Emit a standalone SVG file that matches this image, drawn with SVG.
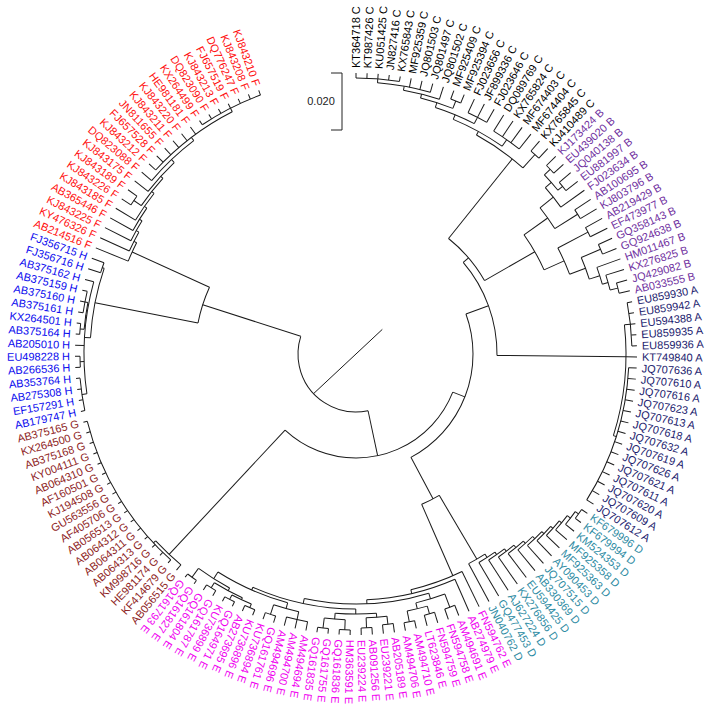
<svg xmlns="http://www.w3.org/2000/svg" width="710" height="710" viewBox="0 0 710 710">
<style>
text{font-family:"Liberation Sans",Arial,sans-serif;font-size:11px}
.c{fill:#000}.b{fill:#7030a0}.a{fill:#1c1c6e}.d{fill:#2e8ba3}.e{fill:#f000f0}.g{fill:#8e2424}.h{fill:#0a0aee}.f{fill:#ff1010}
.fl text{text-anchor:end}
</style>
<rect width="710" height="710" fill="#fff"/>
<g id="scale" fill="none" stroke="#222" stroke-width="1">
<path d="M331,73H342V130H331"/>
<text x="321" y="105" text-anchor="middle" fill="#222" stroke="none" font-size="11">0.020</text>
</g>
<g id="branches" transform="translate(356,354)" fill="none" stroke="#1a1a1a" stroke-width="1">
<line x1="-42.4" y1="39.6" x2="26.3" y2="-24.6"/>
<circle r="58" pathLength="360" stroke-dasharray="119.8 720" transform="rotate(78)"/>
<line x1="58" x2="161" transform="rotate(197.8)"/>
<line x1="58" x2="104" transform="rotate(78)"/>
<circle r="161" pathLength="360" stroke-dasharray="13.4 720" transform="rotate(191.1)"/>
<line x1="161" x2="266" transform="rotate(191.1)"/>
<line x1="161" x2="246" transform="rotate(204.5)"/>
<circle r="104" pathLength="360" stroke-dasharray="111.5 720" transform="rotate(21.5)"/>
<line x1="104" x2="117" transform="rotate(21.5)"/>
<line x1="104" x2="274" transform="rotate(133)"/>
<circle r="117" pathLength="360" stroke-dasharray="82 720" transform="rotate(-20)"/>
<line x1="117" x2="141" transform="rotate(-20)"/>
<line x1="117" x2="164" transform="rotate(62)"/>
<circle r="141" pathLength="360" stroke-dasharray="41.1 720" transform="rotate(-40.5)"/>
<line x1="141" x2="148" transform="rotate(-40.5)"/>
<line x1="141" x2="270" transform="rotate(0.6)"/>
<circle r="148" pathLength="360" stroke-dasharray="21.55 720" transform="rotate(-51.3)"/>
<line x1="148" x2="250" transform="rotate(-51.3)"/>
<line x1="148" x2="206" transform="rotate(-29.75)"/>
<circle r="164" pathLength="360" stroke-dasharray="6.9 720" transform="rotate(59.5)"/>
<line x1="164" x2="238" transform="rotate(59.5)"/>
<line x1="164" x2="242" transform="rotate(66.4)"/>
<!-- C -->
<circle r="250" pathLength="360" stroke-dasharray="13.09 720" transform="rotate(-61.19)"/>
<line x1="250" x2="254" transform="rotate(-61.19)"/>
<line x1="250" x2="268" transform="rotate(-48.1)"/>
<circle r="268" pathLength="360" stroke-dasharray="2.265 720" transform="rotate(-49.23)"/>
<circle r="254" pathLength="360" stroke-dasharray="12.6 720" transform="rotate(-67.49)"/>
<line x1="254" x2="259" transform="rotate(-67.49)"/>
<line x1="254" x2="262" transform="rotate(-54.89)"/>
<circle r="262" pathLength="360" stroke-dasharray="6.795 720" transform="rotate(-58.29)"/>
<circle r="259" pathLength="360" stroke-dasharray="9.34 720" transform="rotate(-72.16)"/>
<line x1="259" x2="264" transform="rotate(-72.16)"/>
<line x1="259" x2="266" transform="rotate(-62.82)"/>
<circle r="266" pathLength="360" stroke-dasharray="4.53 720" transform="rotate(-65.085)"/>
<circle r="264" pathLength="360" stroke-dasharray="7.36 720" transform="rotate(-75.84)"/>
<line x1="264" x2="268" transform="rotate(-75.84)"/>
<line x1="264" x2="272" transform="rotate(-68.48)"/>
<circle r="272" pathLength="360" stroke-dasharray="2.265 720" transform="rotate(-69.615)"/>
<circle r="268" pathLength="360" stroke-dasharray="7.92 720" transform="rotate(-79.8)"/>
<line x1="268" x2="272" transform="rotate(-79.8)"/>
<circle r="272" pathLength="360" stroke-dasharray="11.325 720" transform="rotate(-85.47)"/>
<line x1="272" x2="276" transform="rotate(-85.47)"/>
<circle r="276" pathLength="360" stroke-dasharray="9.06 720" transform="rotate(-90)"/>
<!-- B -->
<circle r="206" pathLength="360" stroke-dasharray="11.26 720" transform="rotate(-35.36)"/>
<line x1="206" x2="235" transform="rotate(-35.36)"/>
<line x1="206" x2="228" transform="rotate(-24.1)"/>
<circle r="235" pathLength="360" stroke-dasharray="6.23 720" transform="rotate(-38.47)"/>
<line x1="235" x2="252" transform="rotate(-38.47)"/>
<line x1="235" x2="262" transform="rotate(-32.24)"/>
<circle r="252" pathLength="360" stroke-dasharray="5.66 720" transform="rotate(-41.3)"/>
<line x1="252" x2="260" transform="rotate(-41.3)"/>
<circle r="260" pathLength="360" stroke-dasharray="4.53 720" transform="rotate(-43.57)"/>
<line x1="260" x2="268" transform="rotate(-43.57)"/>
<line x1="260" x2="266" transform="rotate(-39.04)"/>
<circle r="268" pathLength="360" stroke-dasharray="2.265 720" transform="rotate(-44.7)"/>
<circle r="266" pathLength="360" stroke-dasharray="2.265 720" transform="rotate(-40.17)"/>
<circle r="262" pathLength="360" stroke-dasharray="2.265 720" transform="rotate(-33.375)"/>
<circle r="228" pathLength="360" stroke-dasharray="7.22 720" transform="rotate(-27.71)"/>
<line x1="228" x2="262" transform="rotate(-27.71)"/>
<line x1="228" x2="245" transform="rotate(-20.49)"/>
<circle r="262" pathLength="360" stroke-dasharray="2.265 720" transform="rotate(-28.845)"/>
<circle r="245" pathLength="360" stroke-dasharray="5.38 720" transform="rotate(-23.18)"/>
<line x1="245" x2="266" transform="rotate(-23.18)"/>
<line x1="245" x2="256" transform="rotate(-17.8)"/>
<circle r="266" pathLength="360" stroke-dasharray="2.265 720" transform="rotate(-24.315)"/>
<circle r="256" pathLength="360" stroke-dasharray="3.965 720" transform="rotate(-19.785)"/>
<line x1="256" x2="262" transform="rotate(-15.82)"/>
<circle r="262" pathLength="360" stroke-dasharray="3.4 720" transform="rotate(-17.52)"/>
<line x1="262" x2="270" transform="rotate(-14.12)"/>
<circle r="270" pathLength="360" stroke-dasharray="2.265 720" transform="rotate(-15.255)"/>
<!-- A -->
<circle r="270" pathLength="360" stroke-dasharray="23.8 720" transform="rotate(-6.2)"/>
<line x1="270" x2="276" transform="rotate(-6.2)"/>
<circle r="276" pathLength="360" stroke-dasharray="9.06 720" transform="rotate(-10.725)"/>
<line x1="270" x2="273" transform="rotate(17.6)"/>
<circle r="273" pathLength="360" stroke-dasharray="29.445 720" transform="rotate(2.865)"/>
<!-- D -->
<circle r="238" pathLength="360" stroke-dasharray="4.555 720" transform="rotate(57.2)"/>
<line x1="238" x2="242" transform="rotate(57.2)"/>
<circle r="242" pathLength="360" stroke-dasharray="4.53 720" transform="rotate(54.96)"/>
<line x1="242" x2="245" transform="rotate(54.96)"/>
<circle r="245" pathLength="360" stroke-dasharray="4.525 720" transform="rotate(52.7)"/>
<line x1="245" x2="248" transform="rotate(52.7)"/>
<circle r="248" pathLength="360" stroke-dasharray="4.52 720" transform="rotate(50.44)"/>
<line x1="248" x2="251" transform="rotate(50.44)"/>
<circle r="251" pathLength="360" stroke-dasharray="4.515 720" transform="rotate(48.18)"/>
<line x1="251" x2="254" transform="rotate(48.18)"/>
<circle r="254" pathLength="360" stroke-dasharray="4.5 720" transform="rotate(45.93)"/>
<line x1="254" x2="257" transform="rotate(45.93)"/>
<circle r="257" pathLength="360" stroke-dasharray="4.465 720" transform="rotate(43.7)"/>
<line x1="257" x2="260" transform="rotate(43.7)"/>
<circle r="260" pathLength="360" stroke-dasharray="4.39 720" transform="rotate(41.51)"/>
<line x1="260" x2="263" transform="rotate(41.51)"/>
<circle r="263" pathLength="360" stroke-dasharray="4.245 720" transform="rotate(39.39)"/>
<line x1="263" x2="266" transform="rotate(39.39)"/>
<circle r="266" pathLength="360" stroke-dasharray="3.96 720" transform="rotate(37.41)"/>
<line x1="266" x2="270" transform="rotate(37.41)"/>
<circle r="270" pathLength="360" stroke-dasharray="3.395 720" transform="rotate(35.71)"/>
<line x1="270" x2="274" transform="rotate(35.71)"/>
<circle r="274" pathLength="360" stroke-dasharray="2.265 720" transform="rotate(34.575)"/>
<!-- E -->
<circle r="242" pathLength="360" stroke-dasharray="12.88 720" transform="rotate(64.02)"/>
<line x1="242" x2="246" transform="rotate(76.9)"/>
<circle r="246" pathLength="360" stroke-dasharray="21.215 720" transform="rotate(66.285)"/>
<line x1="246" x2="250" transform="rotate(87.5)"/>
<circle r="250" pathLength="360" stroke-dasharray="28.87 720" transform="rotate(73.08)"/>
<line x1="250" x2="256" transform="rotate(73.08)"/>
<line x1="250" x2="255" transform="rotate(101.95)"/>
<circle r="256" pathLength="360" stroke-dasharray="6.8 720" transform="rotate(69.68)"/>
<line x1="256" x2="270" transform="rotate(69.68)"/>
<line x1="256" x2="262" transform="rotate(76.48)"/>
<circle r="270" pathLength="360" stroke-dasharray="2.265 720" transform="rotate(68.55)"/>
<circle r="262" pathLength="360" stroke-dasharray="4.53 720" transform="rotate(74.21)"/>
<line x1="262" x2="270" transform="rotate(74.21)"/>
<line x1="262" x2="273" transform="rotate(78.74)"/>
<circle r="270" pathLength="360" stroke-dasharray="2.265 720" transform="rotate(73.08)"/>
<circle r="273" pathLength="360" stroke-dasharray="2.265 720" transform="rotate(77.61)"/>
<circle r="255" pathLength="360" stroke-dasharray="23.8 720" transform="rotate(90.05)"/>
<line x1="255" x2="260" transform="rotate(90.05)"/>
<line x1="255" x2="258" transform="rotate(113.85)"/>
<circle r="260" pathLength="360" stroke-dasharray="9.1 720" transform="rotate(85.5)"/>
<line x1="260" x2="264" transform="rotate(85.5)"/>
<line x1="260" x2="266" transform="rotate(94.6)"/>
<circle r="264" pathLength="360" stroke-dasharray="4.53 720" transform="rotate(83.27)"/>
<line x1="264" x2="272" transform="rotate(83.27)"/>
<line x1="264" x2="274" transform="rotate(87.8)"/>
<circle r="272" pathLength="360" stroke-dasharray="2.265 720" transform="rotate(82.14)"/>
<circle r="274" pathLength="360" stroke-dasharray="2.265 720" transform="rotate(86.67)"/>
<circle r="266" pathLength="360" stroke-dasharray="4.53 720" transform="rotate(92.33)"/>
<line x1="266" x2="276" transform="rotate(92.33)"/>
<line x1="266" x2="276" transform="rotate(96.86)"/>
<circle r="276" pathLength="360" stroke-dasharray="2.265 720" transform="rotate(91.2)"/>
<circle r="276" pathLength="360" stroke-dasharray="2.265 720" transform="rotate(95.73)"/>
<circle r="258" pathLength="360" stroke-dasharray="16.99 720" transform="rotate(105.36)"/>
<line x1="258" x2="264" transform="rotate(105.36)"/>
<line x1="258" x2="266" transform="rotate(122.35)"/>
<circle r="264" pathLength="360" stroke-dasharray="5.665 720" transform="rotate(102.525)"/>
<line x1="264" x2="272" transform="rotate(102.525)"/>
<line x1="264" x2="274" transform="rotate(108.19)"/>
<circle r="272" pathLength="360" stroke-dasharray="4.53 720" transform="rotate(100.26)"/>
<circle r="274" pathLength="360" stroke-dasharray="2.265 720" transform="rotate(107.055)"/>
<circle r="266" pathLength="360" stroke-dasharray="7.93 720" transform="rotate(118.38)"/>
<line x1="266" x2="269" transform="rotate(118.38)"/>
<line x1="266" x2="277" transform="rotate(126.31)"/>
<circle r="269" pathLength="360" stroke-dasharray="6.79 720" transform="rotate(114.99)"/>
<line x1="269" x2="271" transform="rotate(114.99)"/>
<line x1="269" x2="275" transform="rotate(121.78)"/>
<circle r="271" pathLength="360" stroke-dasharray="4.53 720" transform="rotate(112.72)"/>
<line x1="271" x2="275" transform="rotate(112.72)"/>
<line x1="271" x2="276" transform="rotate(117.25)"/>
<circle r="275" pathLength="360" stroke-dasharray="2.265 720" transform="rotate(111.585)"/>
<circle r="276" pathLength="360" stroke-dasharray="2.265 720" transform="rotate(116.115)"/>
<circle r="275" pathLength="360" stroke-dasharray="2.265 720" transform="rotate(120.645)"/>
<circle r="277" pathLength="360" stroke-dasharray="2.265 720" transform="rotate(125.175)"/>
<!-- G -->
<circle r="274" pathLength="360" stroke-dasharray="7.295 720" transform="rotate(129.705)"/>
<line x1="274" x2="277" transform="rotate(137)"/>
<circle r="277" pathLength="360" stroke-dasharray="33.975 720" transform="rotate(131.97)"/>
<!-- H -->
<circle r="266" pathLength="360" stroke-dasharray="15.29 720" transform="rotate(183.5)"/>
<line x1="266" x2="272" transform="rotate(183.5)"/>
<line x1="266" x2="268" transform="rotate(198.79)"/>
<circle r="268" pathLength="360" stroke-dasharray="2.265 720" transform="rotate(197.655)"/>
<circle r="272" pathLength="360" stroke-dasharray="23.79 720" transform="rotate(171.6)"/>
<line x1="272" x2="277" transform="rotate(171.6)"/>
<line x1="272" x2="276" transform="rotate(178.4)"/>
<line x1="272" x2="273" transform="rotate(188.03)"/>
<circle r="277" pathLength="360" stroke-dasharray="6.795 720" transform="rotate(168.21)"/>
<circle r="276" pathLength="360" stroke-dasharray="2.265 720" transform="rotate(177.27)"/>
<circle r="273" pathLength="360" stroke-dasharray="5.66 720" transform="rotate(185.2)"/>
<line x1="273" x2="277" transform="rotate(185.2)"/>
<line x1="273" x2="276" transform="rotate(190.86)"/>
<circle r="277" pathLength="360" stroke-dasharray="2.265 720" transform="rotate(184.065)"/>
<circle r="276" pathLength="360" stroke-dasharray="4.53 720" transform="rotate(188.595)"/>
<!-- F -->
<circle r="246" pathLength="360" stroke-dasharray="4.715 720" transform="rotate(202.185)"/>
<line x1="246" x2="249" transform="rotate(206.9)"/>
<circle r="249" pathLength="360" stroke-dasharray="4.85 720" transform="rotate(204.45)"/>
<line x1="249" x2="252" transform="rotate(209.3)"/>
<circle r="252" pathLength="360" stroke-dasharray="5.185 720" transform="rotate(206.715)"/>
<line x1="252" x2="255" transform="rotate(211.9)"/>
<circle r="255" pathLength="360" stroke-dasharray="5.92 720" transform="rotate(208.98)"/>
<line x1="255" x2="258" transform="rotate(214.9)"/>
<circle r="258" pathLength="360" stroke-dasharray="7.255 720" transform="rotate(211.245)"/>
<line x1="258" x2="261" transform="rotate(218.5)"/>
<circle r="261" pathLength="360" stroke-dasharray="7.66 720" transform="rotate(214.64)"/>
<line x1="261" x2="270" transform="rotate(214.64)"/>
<line x1="261" x2="264" transform="rotate(222.3)"/>
<circle r="270" pathLength="360" stroke-dasharray="2.265 720" transform="rotate(213.51)"/>
<circle r="264" pathLength="360" stroke-dasharray="8.46 720" transform="rotate(218.04)"/>
<line x1="264" x2="268" transform="rotate(226.5)"/>
<circle r="268" pathLength="360" stroke-dasharray="12.455 720" transform="rotate(220.305)"/>
<line x1="268" x2="272" transform="rotate(232.76)"/>
<circle r="272" pathLength="360" stroke-dasharray="20.38 720" transform="rotate(222.57)"/>
<line x1="272" x2="276" transform="rotate(242.95)"/>
<circle r="276" pathLength="360" stroke-dasharray="13.59 720" transform="rotate(236.16)"/>
<!-- leaves -->
<line x1="276" x2="281" transform="rotate(-90)"/>
<line x1="276" x2="281" transform="rotate(-87.735)"/>
<line x1="276" x2="281" transform="rotate(-85.47)"/>
<line x1="276" x2="281" transform="rotate(-83.205)"/>
<line x1="276" x2="281" transform="rotate(-80.94)"/>
<line x1="272" x2="281" transform="rotate(-78.675)"/>
<line x1="272" x2="281" transform="rotate(-76.41)"/>
<line x1="272" x2="281" transform="rotate(-74.145)"/>
<line x1="268" x2="281" transform="rotate(-71.88)"/>
<line x1="272" x2="281" transform="rotate(-69.615)"/>
<line x1="272" x2="281" transform="rotate(-67.35)"/>
<line x1="266" x2="281" transform="rotate(-65.085)"/>
<line x1="266" x2="281" transform="rotate(-62.82)"/>
<line x1="266" x2="281" transform="rotate(-60.555)"/>
<line x1="262" x2="281" transform="rotate(-58.29)"/>
<line x1="262" x2="281" transform="rotate(-56.025)"/>
<line x1="262" x2="281" transform="rotate(-53.76)"/>
<line x1="262" x2="281" transform="rotate(-51.495)"/>
<line x1="268" x2="281" transform="rotate(-49.23)"/>
<line x1="268" x2="281" transform="rotate(-46.965)"/>
<line x1="268" x2="281" transform="rotate(-44.7)"/>
<line x1="268" x2="281" transform="rotate(-42.435)"/>
<line x1="266" x2="281" transform="rotate(-40.17)"/>
<line x1="266" x2="281" transform="rotate(-37.905)"/>
<line x1="252" x2="281" transform="rotate(-35.64)"/>
<line x1="262" x2="281" transform="rotate(-33.375)"/>
<line x1="262" x2="281" transform="rotate(-31.11)"/>
<line x1="262" x2="281" transform="rotate(-28.845)"/>
<line x1="262" x2="281" transform="rotate(-26.58)"/>
<line x1="266" x2="281" transform="rotate(-24.315)"/>
<line x1="266" x2="281" transform="rotate(-22.05)"/>
<line x1="256" x2="281" transform="rotate(-19.785)"/>
<line x1="262" x2="281" transform="rotate(-17.52)"/>
<line x1="270" x2="281" transform="rotate(-15.255)"/>
<line x1="270" x2="281" transform="rotate(-12.99)"/>
<line x1="276" x2="281" transform="rotate(-10.725)"/>
<line x1="276" x2="281" transform="rotate(-8.46)"/>
<line x1="276" x2="281" transform="rotate(-6.195)"/>
<line x1="276" x2="281" transform="rotate(-3.93)"/>
<line x1="276" x2="281" transform="rotate(-1.665)"/>
<line x1="270" x2="281" transform="rotate(0.6)"/>
<line x1="273" x2="281" transform="rotate(2.865)"/>
<line x1="273" x2="281" transform="rotate(5.13)"/>
<line x1="273" x2="281" transform="rotate(7.395)"/>
<line x1="273" x2="281" transform="rotate(9.66)"/>
<line x1="273" x2="281" transform="rotate(11.925)"/>
<line x1="273" x2="281" transform="rotate(14.19)"/>
<line x1="273" x2="281" transform="rotate(16.455)"/>
<line x1="273" x2="281" transform="rotate(18.72)"/>
<line x1="273" x2="281" transform="rotate(20.985)"/>
<line x1="273" x2="281" transform="rotate(23.25)"/>
<line x1="273" x2="281" transform="rotate(25.515)"/>
<line x1="273" x2="281" transform="rotate(27.78)"/>
<line x1="273" x2="281" transform="rotate(30.045)"/>
<line x1="273" x2="281" transform="rotate(32.31)"/>
<line x1="274" x2="281" transform="rotate(34.575)"/>
<line x1="274" x2="281" transform="rotate(36.84)"/>
<line x1="270" x2="281" transform="rotate(39.105)"/>
<line x1="266" x2="281" transform="rotate(41.37)"/>
<line x1="263" x2="281" transform="rotate(43.635)"/>
<line x1="260" x2="281" transform="rotate(45.9)"/>
<line x1="257" x2="281" transform="rotate(48.165)"/>
<line x1="254" x2="281" transform="rotate(50.43)"/>
<line x1="251" x2="281" transform="rotate(52.695)"/>
<line x1="248" x2="281" transform="rotate(54.96)"/>
<line x1="245" x2="281" transform="rotate(57.225)"/>
<line x1="242" x2="281" transform="rotate(59.49)"/>
<line x1="238" x2="281" transform="rotate(61.755)"/>
<line x1="242" x2="281" transform="rotate(64.02)"/>
<line x1="246" x2="281" transform="rotate(66.285)"/>
<line x1="270" x2="281" transform="rotate(68.55)"/>
<line x1="270" x2="281" transform="rotate(70.815)"/>
<line x1="270" x2="281" transform="rotate(73.08)"/>
<line x1="270" x2="281" transform="rotate(75.345)"/>
<line x1="273" x2="281" transform="rotate(77.61)"/>
<line x1="273" x2="281" transform="rotate(79.875)"/>
<line x1="272" x2="281" transform="rotate(82.14)"/>
<line x1="272" x2="281" transform="rotate(84.405)"/>
<line x1="274" x2="281" transform="rotate(86.67)"/>
<line x1="274" x2="281" transform="rotate(88.935)"/>
<line x1="276" x2="281" transform="rotate(91.2)"/>
<line x1="276" x2="281" transform="rotate(93.465)"/>
<line x1="276" x2="281" transform="rotate(95.73)"/>
<line x1="276" x2="281" transform="rotate(97.995)"/>
<line x1="272" x2="281" transform="rotate(100.26)"/>
<line x1="272" x2="281" transform="rotate(102.525)"/>
<line x1="272" x2="281" transform="rotate(104.79)"/>
<line x1="274" x2="281" transform="rotate(107.055)"/>
<line x1="274" x2="281" transform="rotate(109.32)"/>
<line x1="275" x2="281" transform="rotate(111.585)"/>
<line x1="275" x2="281" transform="rotate(113.85)"/>
<line x1="276" x2="281" transform="rotate(116.115)"/>
<line x1="276" x2="281" transform="rotate(118.38)"/>
<line x1="275" x2="281" transform="rotate(120.645)"/>
<line x1="275" x2="281" transform="rotate(122.91)"/>
<line x1="277" x2="281" transform="rotate(125.175)"/>
<line x1="277" x2="281" transform="rotate(127.44)"/>
<line x1="274" x2="281" transform="rotate(129.705)"/>
<line x1="277" x2="281" transform="rotate(131.97)"/>
<line x1="277" x2="281" transform="rotate(134.235)"/>
<line x1="277" x2="281" transform="rotate(136.5)"/>
<line x1="277" x2="281" transform="rotate(138.765)"/>
<line x1="277" x2="281" transform="rotate(141.03)"/>
<line x1="277" x2="281" transform="rotate(143.295)"/>
<line x1="277" x2="281" transform="rotate(145.56)"/>
<line x1="277" x2="281" transform="rotate(147.825)"/>
<line x1="277" x2="281" transform="rotate(150.09)"/>
<line x1="277" x2="281" transform="rotate(152.355)"/>
<line x1="277" x2="281" transform="rotate(154.62)"/>
<line x1="277" x2="281" transform="rotate(156.885)"/>
<line x1="277" x2="281" transform="rotate(159.15)"/>
<line x1="277" x2="281" transform="rotate(161.415)"/>
<line x1="277" x2="281" transform="rotate(163.68)"/>
<line x1="277" x2="281" transform="rotate(165.945)"/>
<line x1="277" x2="281" transform="rotate(168.21)"/>
<line x1="277" x2="281" transform="rotate(170.475)"/>
<line x1="277" x2="281" transform="rotate(172.74)"/>
<line x1="277" x2="281" transform="rotate(175.005)"/>
<line x1="276" x2="281" transform="rotate(177.27)"/>
<line x1="276" x2="281" transform="rotate(179.535)"/>
<line x1="272" x2="281" transform="rotate(181.8)"/>
<line x1="277" x2="281" transform="rotate(184.065)"/>
<line x1="277" x2="281" transform="rotate(186.33)"/>
<line x1="276" x2="281" transform="rotate(188.595)"/>
<line x1="276" x2="281" transform="rotate(190.86)"/>
<line x1="276" x2="281" transform="rotate(193.125)"/>
<line x1="272" x2="281" transform="rotate(195.39)"/>
<line x1="268" x2="281" transform="rotate(197.655)"/>
<line x1="268" x2="281" transform="rotate(199.92)"/>
<line x1="246" x2="281" transform="rotate(202.185)"/>
<line x1="249" x2="281" transform="rotate(204.45)"/>
<line x1="252" x2="281" transform="rotate(206.715)"/>
<line x1="255" x2="281" transform="rotate(208.98)"/>
<line x1="258" x2="281" transform="rotate(211.245)"/>
<line x1="270" x2="281" transform="rotate(213.51)"/>
<line x1="270" x2="281" transform="rotate(215.775)"/>
<line x1="264" x2="281" transform="rotate(218.04)"/>
<line x1="268" x2="281" transform="rotate(220.305)"/>
<line x1="272" x2="281" transform="rotate(222.57)"/>
<line x1="272" x2="281" transform="rotate(224.835)"/>
<line x1="272" x2="281" transform="rotate(227.1)"/>
<line x1="272" x2="281" transform="rotate(229.365)"/>
<line x1="272" x2="281" transform="rotate(231.63)"/>
<line x1="272" x2="281" transform="rotate(233.895)"/>
<line x1="276" x2="281" transform="rotate(236.16)"/>
<line x1="276" x2="281" transform="rotate(238.425)"/>
<line x1="276" x2="281" transform="rotate(240.69)"/>
<line x1="276" x2="281" transform="rotate(242.955)"/>
<line x1="276" x2="281" transform="rotate(245.22)"/>
<line x1="276" x2="281" transform="rotate(247.485)"/>
<line x1="276" x2="281" transform="rotate(249.75)"/>
</g>
<g id="labels" transform="translate(356,354)">
<g id="KT364718" class="c" transform="rotate(-90)"><text x="286" dy=".35em">KT364718 C</text></g>
<g id="KT987426" class="c" transform="rotate(-87.735)"><text x="286" dy=".35em">KT987426 C</text></g>
<g id="KU051425" class="c" transform="rotate(-85.47)"><text x="286" dy=".35em">KU051425 C</text></g>
<g id="JN827416" class="c" transform="rotate(-83.205)"><text x="286" dy=".35em">JN827416 C</text></g>
<g id="KX765843" class="c" transform="rotate(-80.94)"><text x="286" dy=".35em">KX765843 C</text></g>
<g id="MF925359" class="c" transform="rotate(-78.675)"><text x="286" dy=".35em">MF925359 C</text></g>
<g id="JQ801503" class="c" transform="rotate(-76.41)"><text x="286" dy=".35em">JQ801503 C</text></g>
<g id="JQ801497" class="c" transform="rotate(-74.145)"><text x="286" dy=".35em">JQ801497 C</text></g>
<g id="JQ801502" class="c" transform="rotate(-71.88)"><text x="286" dy=".35em">JQ801502 C</text></g>
<g id="MF925409" class="c" transform="rotate(-69.615)"><text x="286" dy=".35em">MF925409 C</text></g>
<g id="MF925394" class="c" transform="rotate(-67.35)"><text x="286" dy=".35em">MF925394 C</text></g>
<g id="FJ023656" class="c" transform="rotate(-65.085)"><text x="286" dy=".35em">FJ023656 C</text></g>
<g id="JF899336" class="c" transform="rotate(-62.82)"><text x="286" dy=".35em">JF899336 C</text></g>
<g id="FJ023646" class="c" transform="rotate(-60.555)"><text x="286" dy=".35em">FJ023646 C</text></g>
<g id="DQ089769" class="c" transform="rotate(-58.29)"><text x="286" dy=".35em">DQ089769 C</text></g>
<g id="KX765824" class="c" transform="rotate(-56.025)"><text x="286" dy=".35em">KX765824 C</text></g>
<g id="MF674403" class="c" transform="rotate(-53.76)"><text x="286" dy=".35em">MF674403 C</text></g>
<g id="MF674404" class="c" transform="rotate(-51.495)"><text x="286" dy=".35em">MF674404 C</text></g>
<g id="KX765845" class="c" transform="rotate(-49.23)"><text x="286" dy=".35em">KX765845 C</text></g>
<g id="KJ410489" class="c" transform="rotate(-46.965)"><text x="286" dy=".35em">KJ410489 C</text></g>
<g id="KJ173424" class="b" transform="rotate(-44.7)"><text x="286" dy=".35em">KJ173424 B</text></g>
<g id="EU439020" class="b" transform="rotate(-42.435)"><text x="286" dy=".35em">EU439020 B</text></g>
<g id="JQ040138" class="b" transform="rotate(-40.17)"><text x="286" dy=".35em">JQ040138 B</text></g>
<g id="EU881997" class="b" transform="rotate(-37.905)"><text x="286" dy=".35em">EU881997 B</text></g>
<g id="FJ023634" class="b" transform="rotate(-35.64)"><text x="286" dy=".35em">FJ023634 B</text></g>
<g id="AB100695" class="b" transform="rotate(-33.375)"><text x="286" dy=".35em">AB100695 B</text></g>
<g id="KJ803796" class="b" transform="rotate(-31.11)"><text x="286" dy=".35em">KJ803796 B</text></g>
<g id="AB219429" class="b" transform="rotate(-28.845)"><text x="286" dy=".35em">AB219429 B</text></g>
<g id="EF473977" class="b" transform="rotate(-26.58)"><text x="286" dy=".35em">EF473977 B</text></g>
<g id="GQ358143" class="b" transform="rotate(-24.315)"><text x="286" dy=".35em">GQ358143 B</text></g>
<g id="GQ924638" class="b" transform="rotate(-22.05)"><text x="286" dy=".35em">GQ924638 B</text></g>
<g id="HM011467" class="b" transform="rotate(-19.785)"><text x="286" dy=".35em">HM011467 B</text></g>
<g id="KX276825" class="b" transform="rotate(-17.52)"><text x="286" dy=".35em">KX276825 B</text></g>
<g id="JQ429082" class="b" transform="rotate(-15.255)"><text x="286" dy=".35em">JQ429082 B</text></g>
<g id="AB033555" class="b" transform="rotate(-12.99)"><text x="286" dy=".35em">AB033555 B</text></g>
<g id="EU859930" class="a" transform="rotate(-10.725)"><text x="286" dy=".35em">EU859930 A</text></g>
<g id="EU859942" class="a" transform="rotate(-8.46)"><text x="286" dy=".35em">EU859942 A</text></g>
<g id="EU594388" class="a" transform="rotate(-6.195)"><text x="286" dy=".35em">EU594388 A</text></g>
<g id="EU859935" class="a" transform="rotate(-3.93)"><text x="286" dy=".35em">EU859935 A</text></g>
<g id="EU859936" class="a" transform="rotate(-1.665)"><text x="286" dy=".35em">EU859936 A</text></g>
<g id="KT749840" class="a" transform="rotate(0.6)"><text x="286" dy=".35em">KT749840 A</text></g>
<g id="JQ707636" class="a" transform="rotate(2.865)"><text x="286" dy=".35em">JQ707636 A</text></g>
<g id="JQ707610" class="a" transform="rotate(5.13)"><text x="286" dy=".35em">JQ707610 A</text></g>
<g id="JQ707616" class="a" transform="rotate(7.395)"><text x="286" dy=".35em">JQ707616 A</text></g>
<g id="JQ707623" class="a" transform="rotate(9.66)"><text x="286" dy=".35em">JQ707623 A</text></g>
<g id="JQ707613" class="a" transform="rotate(11.925)"><text x="286" dy=".35em">JQ707613 A</text></g>
<g id="JQ707618" class="a" transform="rotate(14.19)"><text x="286" dy=".35em">JQ707618 A</text></g>
<g id="JQ707632" class="a" transform="rotate(16.455)"><text x="286" dy=".35em">JQ707632 A</text></g>
<g id="JQ707619" class="a" transform="rotate(18.72)"><text x="286" dy=".35em">JQ707619 A</text></g>
<g id="JQ707626" class="a" transform="rotate(20.985)"><text x="286" dy=".35em">JQ707626 A</text></g>
<g id="JQ707621" class="a" transform="rotate(23.25)"><text x="286" dy=".35em">JQ707621 A</text></g>
<g id="JQ707611" class="a" transform="rotate(25.515)"><text x="286" dy=".35em">JQ707611 A</text></g>
<g id="JQ707620" class="a" transform="rotate(27.78)"><text x="286" dy=".35em">JQ707620 A</text></g>
<g id="JQ707609" class="a" transform="rotate(30.045)"><text x="286" dy=".35em">JQ707609 A</text></g>
<g id="JQ707612" class="a" transform="rotate(32.31)"><text x="286" dy=".35em">JQ707612 A</text></g>
<g id="KF679996" class="d" transform="rotate(34.575)"><text x="286" dy=".35em">KF679996 D</text></g>
<g id="KF679994" class="d" transform="rotate(36.84)"><text x="286" dy=".35em">KF679994 D</text></g>
<g id="KM524353" class="d" transform="rotate(39.105)"><text x="286" dy=".35em">KM524353 D</text></g>
<g id="MF925358" class="d" transform="rotate(41.37)"><text x="286" dy=".35em">MF925358 D</text></g>
<g id="MF925363" class="d" transform="rotate(43.635)"><text x="286" dy=".35em">MF925363 D</text></g>
<g id="AY090453" class="d" transform="rotate(45.9)"><text x="286" dy=".35em">AY090453 D</text></g>
<g id="JQ707515" class="d" transform="rotate(48.165)"><text x="286" dy=".35em">JQ707515 D</text></g>
<g id="AB330369" class="d" transform="rotate(50.43)"><text x="286" dy=".35em">AB330369 D</text></g>
<g id="EU594425" class="d" transform="rotate(52.695)"><text x="286" dy=".35em">EU594425 D</text></g>
<g id="KX276856" class="d" transform="rotate(54.96)"><text x="286" dy=".35em">KX276856 D</text></g>
<g id="AJ627224" class="d" transform="rotate(57.225)"><text x="286" dy=".35em">AJ627224 D</text></g>
<g id="GQ477453" class="d" transform="rotate(59.49)"><text x="286" dy=".35em">GQ477453 D</text></g>
<g id="JN040762" class="d" transform="rotate(61.755)"><text x="286" dy=".35em">JN040762 D</text></g>
<g id="FN594762" class="e" transform="rotate(64.02)"><text x="286" dy=".35em">FN594762 E</text></g>
<g id="AB274979" class="e" transform="rotate(66.285)"><text x="286" dy=".35em">AB274979 E</text></g>
<g id="AM494691" class="e" transform="rotate(68.55)"><text x="286" dy=".35em">AM494691 E</text></g>
<g id="FN594758" class="e" transform="rotate(70.815)"><text x="286" dy=".35em">FN594758 E</text></g>
<g id="FN594759" class="e" transform="rotate(73.08)"><text x="286" dy=".35em">FN594759 E</text></g>
<g id="LT623846" class="e" transform="rotate(75.345)"><text x="286" dy=".35em">LT623846 E</text></g>
<g id="AM494710" class="e" transform="rotate(77.61)"><text x="286" dy=".35em">AM494710 E</text></g>
<g id="AM494706" class="e" transform="rotate(79.875)"><text x="286" dy=".35em">AM494706 E</text></g>
<g id="AB205189" class="e" transform="rotate(82.14)"><text x="286" dy=".35em">AB205189 E</text></g>
<g id="EU239221" class="e" transform="rotate(84.405)"><text x="286" dy=".35em">EU239221 E</text></g>
<g id="AB091256" class="e" transform="rotate(86.67)"><text x="286" dy=".35em">AB091256 E</text></g>
<g id="EU239224" class="e" transform="rotate(88.935)"><text x="286" dy=".35em">EU239224 E</text></g>
<g id="HM363591" class="e" transform="rotate(91.2)"><text x="286" dy=".35em">HM363591 E</text></g>
<g id="GQ161836" class="e" transform="rotate(93.465)"><text x="286" dy=".35em">GQ161836 E</text></g>
<g id="GQ161755" class="e" transform="rotate(95.73)"><text x="286" dy=".35em">GQ161755 E</text></g>
<g id="GQ161835" class="e" transform="rotate(97.995)"><text x="286" dy=".35em">GQ161835 E</text></g>
<g id="AM494694" class="e" transform="rotate(100.26)"><text x="286" dy=".35em">AM494694 E</text></g>
<g id="AM494700" class="e" transform="rotate(102.525)"><text x="286" dy=".35em">AM494700 E</text></g>
<g id="AM494696" class="e" transform="rotate(104.79)"><text x="286" dy=".35em">AM494696 E</text></g>
<g id="GQ161761" class="e" transform="rotate(107.055)"><text x="286" dy=".35em">GQ161761 E</text></g>
<g id="KU736894" class="e" transform="rotate(109.32)"><text x="286" dy=".35em">KU736894 E</text></g>
<g id="KU736896" class="e" transform="rotate(111.585)"><text x="286" dy=".35em">KU736896 E</text></g>
<g id="AB273695" class="e" transform="rotate(113.85)"><text x="286" dy=".35em">AB273695 E</text></g>
<g id="GQ164971" class="e" transform="rotate(116.115)"><text x="286" dy=".35em">GQ164971 E</text></g>
<g id="KU736899" class="e" transform="rotate(118.38)"><text x="286" dy=".35em">KU736899 E</text></g>
<g id="GQ161787" class="e" transform="rotate(120.645)"><text x="286" dy=".35em">GQ161787 E</text></g>
<g id="GQ161804" class="e" transform="rotate(122.91)"><text x="286" dy=".35em">GQ161804 E</text></g>
<g id="GQ161827" class="e" transform="rotate(125.175)"><text x="286" dy=".35em">GQ161827 E</text></g>
<g id="GQ161793" class="e" transform="rotate(127.44)"><text x="286" dy=".35em">GQ161793 E</text></g>
<g id="AB056515" class="g fl" transform="rotate(129.705)"><text x="-286" dy=".35em" transform="rotate(180)">AB056515 G</text></g>
<g id="KF414679" class="g fl" transform="rotate(131.97)"><text x="-286" dy=".35em" transform="rotate(180)">KF414679 G</text></g>
<g id="HE981174" class="g fl" transform="rotate(134.235)"><text x="-286" dy=".35em" transform="rotate(180)">HE981174 G</text></g>
<g id="KM998716" class="g fl" transform="rotate(136.5)"><text x="-286" dy=".35em" transform="rotate(180)">KM998716 G</text></g>
<g id="AB064313" class="g fl" transform="rotate(138.765)"><text x="-286" dy=".35em" transform="rotate(180)">AB064313 G</text></g>
<g id="AB064311" class="g fl" transform="rotate(141.03)"><text x="-286" dy=".35em" transform="rotate(180)">AB064311 G</text></g>
<g id="AB064312" class="g fl" transform="rotate(143.295)"><text x="-286" dy=".35em" transform="rotate(180)">AB064312 G</text></g>
<g id="AB056513" class="g fl" transform="rotate(145.56)"><text x="-286" dy=".35em" transform="rotate(180)">AB056513 G</text></g>
<g id="AF405706" class="g fl" transform="rotate(147.825)"><text x="-286" dy=".35em" transform="rotate(180)">AF405706 G</text></g>
<g id="GU563556" class="g fl" transform="rotate(150.09)"><text x="-286" dy=".35em" transform="rotate(180)">GU563556 G</text></g>
<g id="KJ194508" class="g fl" transform="rotate(152.355)"><text x="-286" dy=".35em" transform="rotate(180)">KJ194508 G</text></g>
<g id="AF160501" class="g fl" transform="rotate(154.62)"><text x="-286" dy=".35em" transform="rotate(180)">AF160501 G</text></g>
<g id="AB064310" class="g fl" transform="rotate(156.885)"><text x="-286" dy=".35em" transform="rotate(180)">AB064310 G</text></g>
<g id="KY004111" class="g fl" transform="rotate(159.15)"><text x="-286" dy=".35em" transform="rotate(180)">KY004111 G</text></g>
<g id="AB375168" class="g fl" transform="rotate(161.415)"><text x="-286" dy=".35em" transform="rotate(180)">AB375168 G</text></g>
<g id="KX264500" class="g fl" transform="rotate(163.68)"><text x="-286" dy=".35em" transform="rotate(180)">KX264500 G</text></g>
<g id="AB375165" class="g fl" transform="rotate(165.945)"><text x="-286" dy=".35em" transform="rotate(180)">AB375165 G</text></g>
<g id="AB179747" class="h fl" transform="rotate(168.21)"><text x="-286" dy=".35em" transform="rotate(180)">AB179747 H</text></g>
<g id="EF157291" class="h fl" transform="rotate(170.475)"><text x="-286" dy=".35em" transform="rotate(180)">EF157291 H</text></g>
<g id="AB275308" class="h fl" transform="rotate(172.74)"><text x="-286" dy=".35em" transform="rotate(180)">AB275308 H</text></g>
<g id="AB353764" class="h fl" transform="rotate(175.005)"><text x="-286" dy=".35em" transform="rotate(180)">AB353764 H</text></g>
<g id="AB266536" class="h fl" transform="rotate(177.27)"><text x="-286" dy=".35em" transform="rotate(180)">AB266536 H</text></g>
<g id="EU498228" class="h fl" transform="rotate(179.535)"><text x="-286" dy=".35em" transform="rotate(180)">EU498228 H</text></g>
<g id="AB205010" class="h fl" transform="rotate(181.8)"><text x="-286" dy=".35em" transform="rotate(180)">AB205010 H</text></g>
<g id="AB375164" class="h fl" transform="rotate(184.065)"><text x="-286" dy=".35em" transform="rotate(180)">AB375164 H</text></g>
<g id="KX264501" class="h fl" transform="rotate(186.33)"><text x="-286" dy=".35em" transform="rotate(180)">KX264501 H</text></g>
<g id="AB375161" class="h fl" transform="rotate(188.595)"><text x="-286" dy=".35em" transform="rotate(180)">AB375161 H</text></g>
<g id="AB375160" class="h fl" transform="rotate(190.86)"><text x="-286" dy=".35em" transform="rotate(180)">AB375160 H</text></g>
<g id="AB375159" class="h fl" transform="rotate(193.125)"><text x="-286" dy=".35em" transform="rotate(180)">AB375159 H</text></g>
<g id="AB375162" class="h fl" transform="rotate(195.39)"><text x="-286" dy=".35em" transform="rotate(180)">AB375162 H</text></g>
<g id="FJ356716" class="h fl" transform="rotate(197.655)"><text x="-286" dy=".35em" transform="rotate(180)">FJ356716 H</text></g>
<g id="FJ356715" class="h fl" transform="rotate(199.92)"><text x="-286" dy=".35em" transform="rotate(180)">FJ356715 H</text></g>
<g id="AB214516" class="f fl" transform="rotate(202.185)"><text x="-286" dy=".35em" transform="rotate(180)">AB214516 F</text></g>
<g id="KY476326" class="f fl" transform="rotate(204.45)"><text x="-286" dy=".35em" transform="rotate(180)">KY476326 F</text></g>
<g id="KJ843225" class="f fl" transform="rotate(206.715)"><text x="-286" dy=".35em" transform="rotate(180)">KJ843225 F</text></g>
<g id="AB365446" class="f fl" transform="rotate(208.98)"><text x="-286" dy=".35em" transform="rotate(180)">AB365446 F</text></g>
<g id="KJ843185" class="f fl" transform="rotate(211.245)"><text x="-286" dy=".35em" transform="rotate(180)">KJ843185 F</text></g>
<g id="KJ843226" class="f fl" transform="rotate(213.51)"><text x="-286" dy=".35em" transform="rotate(180)">KJ843226 F</text></g>
<g id="KJ843189" class="f fl" transform="rotate(215.775)"><text x="-286" dy=".35em" transform="rotate(180)">KJ843189 F</text></g>
<g id="KJ843175" class="f fl" transform="rotate(218.04)"><text x="-286" dy=".35em" transform="rotate(180)">KJ843175 F</text></g>
<g id="DQ823088" class="f fl" transform="rotate(220.305)"><text x="-286" dy=".35em" transform="rotate(180)">DQ823088 F</text></g>
<g id="KJ843212" class="f fl" transform="rotate(222.57)"><text x="-286" dy=".35em" transform="rotate(180)">KJ843212 F</text></g>
<g id="FJ657528" class="f fl" transform="rotate(224.835)"><text x="-286" dy=".35em" transform="rotate(180)">FJ657528 F</text></g>
<g id="JN811655" class="f fl" transform="rotate(227.1)"><text x="-286" dy=".35em" transform="rotate(180)">JN811655 F</text></g>
<g id="KJ843211" class="f fl" transform="rotate(229.365)"><text x="-286" dy=".35em" transform="rotate(180)">KJ843211 F</text></g>
<g id="KJ843220" class="f fl" transform="rotate(231.63)"><text x="-286" dy=".35em" transform="rotate(180)">KJ843220 F</text></g>
<g id="HE981181" class="f fl" transform="rotate(233.895)"><text x="-286" dy=".35em" transform="rotate(180)">HE981181 F</text></g>
<g id="KX264499" class="f fl" transform="rotate(236.16)"><text x="-286" dy=".35em" transform="rotate(180)">KX264499 F</text></g>
<g id="DQ823090" class="f fl" transform="rotate(238.425)"><text x="-286" dy=".35em" transform="rotate(180)">DQ823090 F</text></g>
<g id="KJ843213" class="f fl" transform="rotate(240.69)"><text x="-286" dy=".35em" transform="rotate(180)">KJ843213 F</text></g>
<g id="FJ657519" class="f fl" transform="rotate(242.955)"><text x="-286" dy=".35em" transform="rotate(180)">FJ657519 F</text></g>
<g id="DQ776247" class="f fl" transform="rotate(245.22)"><text x="-286" dy=".35em" transform="rotate(180)">DQ776247 F</text></g>
<g id="KJ843208" class="f fl" transform="rotate(247.485)"><text x="-286" dy=".35em" transform="rotate(180)">KJ843208 F</text></g>
<g id="KJ843210" class="f fl" transform="rotate(249.75)"><text x="-286" dy=".35em" transform="rotate(180)">KJ843210 F</text></g>
</g>
</svg>
